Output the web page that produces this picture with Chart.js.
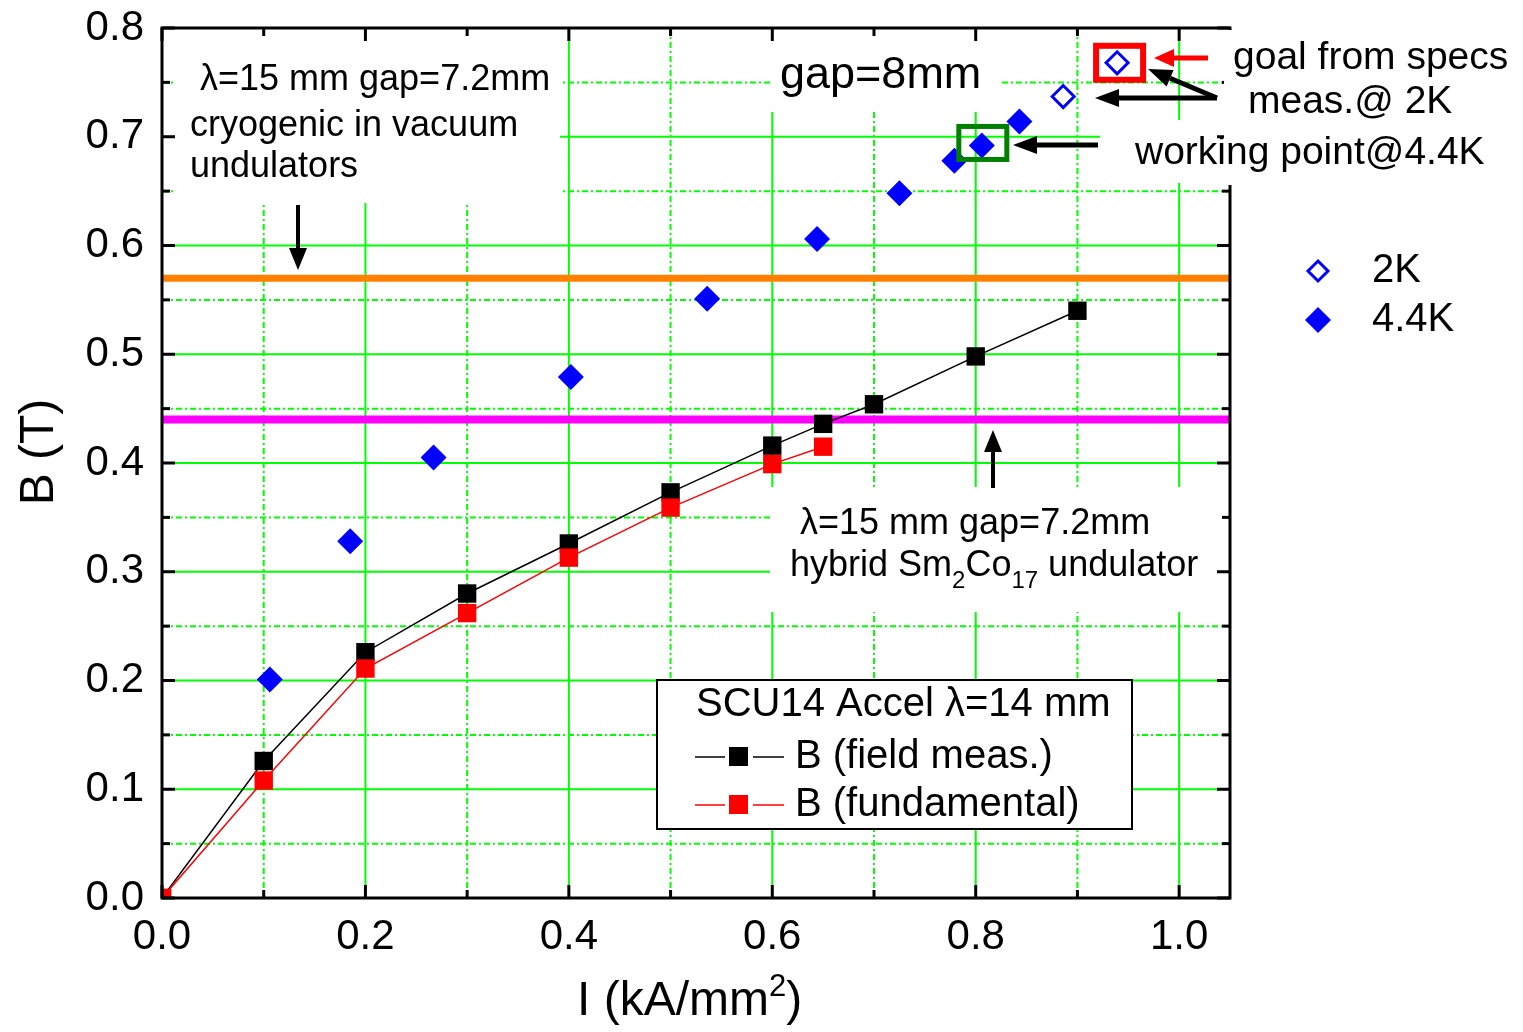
<!DOCTYPE html>
<html>
<head>
<meta charset="utf-8">
<script src="https://cdn.jsdelivr.net/npm/chart.js@4.4.1/dist/chart.umd.min.js"></script>
<style>
  body { margin: 0; background: #fff; }
  #wrap { width: 1523px; height: 1032px; }
</style>
</head>
<body>
<div id="wrap"><canvas id="bchart" width="1523" height="1032"></canvas></div>
<script>
'use strict';

// tick values / labels
var xTickVals = [0, 0.2, 0.4, 0.6, 0.8, 1.0];
var xTickLabels = ['0.0', '0.2', '0.4', '0.6', '0.8', '1.0'];
var xMinorVals = [0.1, 0.3, 0.5, 0.7, 0.9];
var yTickVals = [0, 0.1, 0.2, 0.3, 0.4, 0.5, 0.6, 0.7, 0.8];
var yTickLabels = ['0.0', '0.1', '0.2', '0.3', '0.4', '0.5', '0.6', '0.7', '0.8'];
var yMinorVals = [0.05, 0.15, 0.25, 0.35, 0.45, 0.55, 0.65, 0.75];

// SCU14 measurements
var currentMeas = [0, 0.1, 0.2, 0.3, 0.4, 0.5, 0.6, 0.65, 0.7, 0.8, 0.9];
var fieldMeas = [0, 0.126, 0.226, 0.280, 0.326, 0.373, 0.416, 0.436, 0.454, 0.498, 0.540];
var currentFund = [0, 0.1, 0.2, 0.3, 0.4, 0.5, 0.6, 0.65];
var fieldFund = [0, 0.108, 0.211, 0.262, 0.313, 0.359, 0.399, 0.415];

// gap=8mm curves
var current2K = [0.886, 0.939];
var field2K = [0.737, 0.768];
var current44K = [0.106, 0.185, 0.267, 0.402, 0.536, 0.644, 0.725, 0.779, 0.806, 0.843];
var field44K = [0.201, 0.328, 0.405, 0.479, 0.551, 0.606, 0.648, 0.678, 0.692, 0.714];

// reference undulators
var cryoLevel = 0.57;
var hybridLevel = 0.44;
var levelRange = [0, 1.05];

var FONT = "'Liberation Sans', Arial, sans-serif";
var GRID = '#00ff00';
var BLUE = '#0000ff';

function pts(xs, ys) {
    return xs.map((v, i) => ({x: v, y: ys[i]}));
}

function hline(level) {
    return levelRange.map(v => ({x: v, y: level}));
}

function line(ctx, x1, y1, x2, y2) {
    ctx.beginPath();
    ctx.moveTo(x1, y1);
    ctx.lineTo(x2, y2);
    ctx.stroke();
}

function arrow(ctx, x1, y1, x2, y2, color, w, hl, hw) {
    var ang = Math.atan2(y2 - y1, x2 - x1);
    var bx = x2 - Math.cos(ang) * hl, by = y2 - Math.sin(ang) * hl;
    ctx.strokeStyle = color;
    ctx.fillStyle = color;
    ctx.lineWidth = w;
    line(ctx, x1, y1, bx, by);
    ctx.beginPath();
    ctx.moveTo(x2, y2);
    ctx.lineTo(bx + Math.sin(ang) * hw, by - Math.cos(ang) * hw);
    ctx.lineTo(bx - Math.sin(ang) * hw, by + Math.cos(ang) * hw);
    ctx.closePath();
    ctx.fill();
}

function txt(ctx, s, x, y, size, align) {
    ctx.font = size + 'px ' + FONT;
    ctx.fillStyle = '#000';
    ctx.textAlign = align || 'left';
    ctx.textBaseline = 'middle';
    ctx.fillText(s, x, y);
}

// runs of [text, size, yOffset]
function richTxt(ctx, runs, x, y) {
    var cx = x;
    ctx.fillStyle = '#000';
    ctx.textAlign = 'left';
    ctx.textBaseline = 'middle';
    runs.forEach(r => {
        ctx.font = r[1] + 'px ' + FONT;
        ctx.fillText(r[0], cx, y + r[2]);
        cx += ctx.measureText(r[0]).width;
    });
}

function diamond(ctx, x, y, r, filled) {
    ctx.beginPath();
    ctx.moveTo(x, y - r);
    ctx.lineTo(x + r, y);
    ctx.lineTo(x, y + r);
    ctx.lineTo(x - r, y);
    ctx.closePath();
    if (filled) {
        ctx.fillStyle = BLUE;
        ctx.fill();
    } else {
        ctx.fillStyle = '#fff';
        ctx.fill();
        ctx.strokeStyle = BLUE;
        ctx.lineWidth = 3;
        ctx.stroke();
    }
}

// white areas behind the labels (they hide the grid)
var blanks = [
    [175, 35, 385, 168],
    [770, 35, 232, 77],
    [1100, 120, 130, 63],
    [770, 487, 458, 125]
];

var annotations = {
    id: 'annotations',
    beforeDatasetsDraw(chart) {
        var ctx = chart.ctx, a = chart.chartArea;
        var xs = chart.scales.x, ys = chart.scales.y;
        ctx.save();
        ctx.beginPath();
        ctx.rect(a.left, a.top, a.right - a.left, a.bottom - a.top);
        ctx.clip();
        ctx.strokeStyle = GRID;
        ctx.lineWidth = 2;
        ctx.setLineDash([6, 3, 2, 3]);
        xMinorVals.forEach(v => { var p = xs.getPixelForValue(v); line(ctx, p, a.top, p, a.bottom); });
        yMinorVals.forEach(v => { var p = ys.getPixelForValue(v); line(ctx, a.left, p, a.right, p); });
        ctx.setLineDash([]);
        xTickVals.forEach(v => { var p = xs.getPixelForValue(v); line(ctx, p, a.top, p, a.bottom); });
        yTickVals.forEach(v => { var p = ys.getPixelForValue(v); line(ctx, a.left, p, a.right, p); });
        ctx.fillStyle = '#fff';
        blanks.forEach(b => ctx.fillRect(b[0], b[1], b[2], b[3]));
        ctx.restore();
    },
    afterDatasetsDraw(chart) {
        var ctx = chart.ctx, a = chart.chartArea;
        var xs = chart.scales.x, ys = chart.scales.y;
        ctx.save();

        // frame + inward ticks on all four sides
        ctx.strokeStyle = '#000';
        ctx.lineWidth = 3;
        ctx.strokeRect(a.left, a.top, a.right - a.left, a.bottom - a.top);
        xTickVals.forEach(v => { var p = xs.getPixelForValue(v); line(ctx, p, a.bottom, p, a.bottom - 13); line(ctx, p, a.top, p, a.top + 13); });
        xMinorVals.forEach(v => { var p = xs.getPixelForValue(v); line(ctx, p, a.bottom, p, a.bottom - 8); line(ctx, p, a.top, p, a.top + 8); });
        yTickVals.forEach(v => { var p = ys.getPixelForValue(v); line(ctx, a.left, p, a.left + 13, p); line(ctx, a.right, p, a.right - 13, p); });
        yMinorVals.forEach(v => { var p = ys.getPixelForValue(v); line(ctx, a.left, p, a.left + 8, p); line(ctx, a.right, p, a.right - 8, p); });

        // labels at the top right hide the right frame
        ctx.fillStyle = '#fff';
        ctx.fillRect(a.right - 6, a.top + 2, 12, 183 - a.top);

        // boxes around the 2K goal point and the 4.4K working point
        var gx = xs.getPixelForValue(current2K[1]), gy = ys.getPixelForValue(field2K[1]);
        ctx.strokeStyle = '#ff0000';
        ctx.lineWidth = 6;
        ctx.strokeRect(gx - 21, gy - 17, 47, 34);
        var wx = xs.getPixelForValue(current44K[8]), wy = ys.getPixelForValue(field44K[8]);
        ctx.strokeStyle = '#008000';
        ctx.lineWidth = 5;
        ctx.strokeRect(wx - 23, wy - 19, 48, 33);

        // arrows
        arrow(ctx, 298, 205, 298, 270, '#000', 4, 22, 9);
        arrow(ctx, 993, 488, 993, 430, '#000', 4, 22, 9);
        arrow(ctx, 1098, 145, 1013, 145, '#000', 5, 24, 9);
        arrow(ctx, 1217, 98, 1095, 98, '#000', 5, 24, 9);
        arrow(ctx, 1217, 98, 1148, 69, '#000', 5, 24, 9);
        arrow(ctx, 1208, 58, 1154, 58, '#ff0000', 5, 20, 9);

        // labels in the plot
        txt(ctx, ' \u03bb=15 mm gap=7.2mm', 190, 80, 36);
        txt(ctx, 'cryogenic in vacuum', 190, 126, 36);
        txt(ctx, 'undulators', 190, 167, 36);
        txt(ctx, 'gap=8mm', 780, 76, 45);
        txt(ctx, 'goal from specs', 1233, 58, 39);
        txt(ctx, 'meas.@ 2K', 1248, 102, 39);
        txt(ctx, 'working point@4.4K', 1135, 153, 39);
        txt(ctx, '\u03bb=15 mm gap=7.2mm', 800, 524, 36);
        richTxt(ctx, [['hybrid Sm', 36, 0], ['2', 24, 15], ['Co', 36, 0], ['17', 24, 15], [' undulator', 36, 0]], 790, 566);

        // legend on the right
        diamond(ctx, 1318, 271, 10, false);
        txt(ctx, '2K', 1372, 271, 40);
        diamond(ctx, 1318, 320, 13, true);
        txt(ctx, '4.4K', 1372, 320, 40);

        // legend box
        ctx.fillStyle = '#fff';
        ctx.fillRect(657, 680, 475, 149);
        ctx.strokeStyle = '#000';
        ctx.lineWidth = 2;
        ctx.strokeRect(657, 680, 475, 149);
        txt(ctx, 'SCU14 Accel \u03bb=14 mm', 696, 705, 40);
        [['#000', 'B (field meas.)', 757], ['#ff0000', 'B (fundamental)', 805]].forEach(r => {
            ctx.strokeStyle = r[0];
            ctx.lineWidth = 1.5;
            line(ctx, 695, r[2], 725, r[2]);
            line(ctx, 753, r[2], 784, r[2]);
            ctx.fillStyle = r[0];
            ctx.fillRect(729, r[2] - 10, 19, 19);
            txt(ctx, r[1], 795, r[2], 40);
        });

        // axis titles
        richTxt(ctx, [['I (kA/mm', 48, 0], ['2', 31, -15], [')', 48, 0]], 577, 1002);
        ctx.save();
        ctx.translate(40, 452);
        ctx.rotate(-Math.PI / 2);
        txt(ctx, 'B (T)', 0, 0, 48, 'center');
        ctx.restore();

        ctx.restore();
    }
};

var canvas = document.getElementById('bchart');

var bChart = new Chart(canvas, {
    type: 'scatter',
    data: {
        datasets: [
            {
                label: 'B (fundamental)',
                data: pts(currentFund, fieldFund),
                showLine: true,
                borderColor: '#ff0000',
                borderWidth: 1.5,
                pointStyle: 'rect',
                pointRadius: 13,
                pointBackgroundColor: '#ff0000',
                pointBorderWidth: 0,
                order: 1
            },
            {
                label: 'B (field meas.)',
                data: pts(currentMeas, fieldMeas),
                showLine: true,
                borderColor: '#000',
                borderWidth: 1.5,
                pointStyle: 'rect',
                pointRadius: 13,
                pointBackgroundColor: '#000',
                pointBorderWidth: 0,
                order: 2
            },
            {
                label: '2K',
                data: pts(current2K, field2K),
                pointStyle: 'rectRot',
                pointRadius: 11,
                pointBackgroundColor: '#fff',
                pointBorderColor: BLUE,
                pointBorderWidth: 3,
                order: 0
            },
            {
                label: '4.4K',
                data: pts(current44K, field44K),
                pointStyle: 'rectRot',
                pointRadius: 13,
                pointBackgroundColor: BLUE,
                pointBorderWidth: 0,
                order: 0
            },
            {
                label: 'cryogenic',
                data: hline(cryoLevel),
                showLine: true,
                borderColor: '#ff8000',
                borderWidth: 7,
                pointRadius: 0,
                order: 5
            },
            {
                label: 'hybrid',
                data: hline(hybridLevel),
                showLine: true,
                borderColor: '#ff00ff',
                borderWidth: 8,
                pointRadius: 0,
                order: 5
            }
        ]
    },
    options: {
        responsive: false,
        devicePixelRatio: 1,
        animation: false,
        events: [],
        layout: {
            padding: {top: 28, right: 293, left: 0, bottom: 0}
        },
        plugins: {
            legend: {display: false},
            tooltip: {enabled: false}
        },
        scales: {
            x: {
                type: 'linear',
                min: 0,
                max: 1.05,
                grid: {display: false, drawTicks: false},
                border: {display: false},
                afterBuildTicks: s => { s.ticks = xTickVals.map(v => ({value: v})); },
                afterFit: s => { s.height = 134; s.paddingLeft = 0; s.paddingRight = 0; },
                ticks: {
                    padding: 14,
                    color: '#000',
                    maxRotation: 0,
                    autoSkip: false,
                    font: {family: FONT, size: 42},
                    callback: (v, i) => xTickLabels[i]
                }
            },
            y: {
                type: 'linear',
                min: 0,
                max: 0.8,
                grid: {display: false, drawTicks: false},
                border: {display: false},
                afterBuildTicks: s => { s.ticks = yTickVals.map(v => ({value: v})); },
                afterFit: s => { s.width = 162; s.paddingTop = 0; s.paddingBottom = 0; },
                ticks: {
                    padding: 18,
                    color: '#000',
                    autoSkip: false,
                    font: {family: FONT, size: 42},
                    callback: (v, i) => yTickLabels[i]
                }
            }
        }
    },
    plugins: [annotations]
});
</script>
</body>
</html>
